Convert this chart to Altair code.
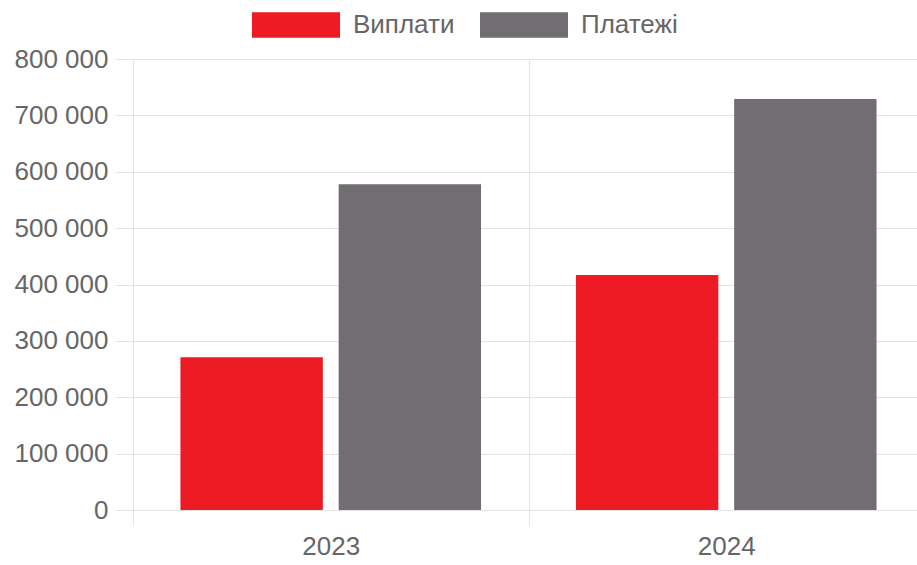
import altair as alt
import pandas as pd

years = ["2023", "2024"]
series = ["Виплати", "Платежі"]
vyplaty = [271000, 417000]
platezhi = [578000, 729000]
y_ticks = [0, 100000, 200000, 300000, 400000, 500000, 600000, 700000, 800000]

rows = []
for i, yr in enumerate(years):
    rows.append({"year": yr, "series": series[0], "value": vyplaty[i]})
    rows.append({"year": yr, "series": series[1], "value": platezhi[i]})
df = pd.DataFrame(rows)

RED = "#ED1C24"
GREY = "#716D72"
GRID = "#E3E3E3"
TEXT = "#666666"
FONT = "Liberation Sans"

chart = alt.Chart(df).mark_bar().encode(
    x=alt.X(
        "year:N",
        sort=years,
        scale=alt.Scale(range=[0, 791], paddingInner=0, paddingOuter=0),
        axis=alt.Axis(
            title=None, labelAngle=0, grid=True, gridColor=GRID, tickBand="extent",
            domain=False, ticks=True, tickColor=GRID, tickSize=15,
            labelFontSize=26, labelColor=TEXT, labelFont=FONT, labelPadding=8,
        ),
    ),
    xOffset=alt.XOffset("series:N", sort=series,
                        scale=alt.Scale(paddingInner=0.1, paddingOuter=0.3)),
    y=alt.Y(
        "value:Q",
        scale=alt.Scale(domain=[0, 800000], nice=False),
        axis=alt.Axis(
            title=None, values=y_ticks, grid=True, gridColor=GRID,
            domain=True, domainColor=GRID, ticks=True, tickColor=GRID, tickSize=18,
            labelFontSize=26, labelColor=TEXT, labelFont=FONT, labelPadding=7,
            labelExpr="replace(format(datum.value, ','), /,/g, ' ')",
        ),
    ),
    color=alt.Color(
        "series:N",
        scale=alt.Scale(domain=series, range=[RED, GREY]),
        legend=alt.Legend(
            title=None, orient="none", direction="horizontal",
            legendX=119, legendY=-78,
            symbolType="M-1,-0.29H1V0.29H-1Z", symbolSize=7744,
            symbolStrokeWidth=0, symbolOpacity=1,
            labelFontSize=26, labelColor=TEXT, labelFont=FONT,
            labelOffset=13, columnPadding=25,
        ),
    ),
).properties(
    width=784,
    height=451,
    autosize=alt.AutoSizeParams(type="none"),
    padding={"left": 133, "top": 59, "right": 0, "bottom": 55},
).configure_view(stroke="transparent")

chart.save("out.html", embed_options={"renderer": "svg", "actions": False})
